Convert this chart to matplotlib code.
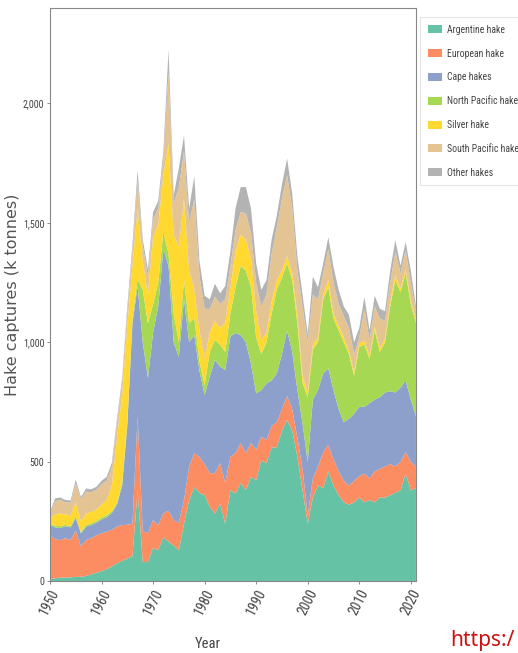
import matplotlib
matplotlib.use("Agg")
import matplotlib.pyplot as plt
from matplotlib import font_manager
from matplotlib.font_manager import FontProperties
from matplotlib.ticker import FuncFormatter

years = list(range(1950, 2022))

species = ["Argentine hake", "European hake", "Cape hakes", "North Pacific hake",
           "Silver hake", "South Pacific hake", "Other hakes"]

argentine = [8, 12, 15, 15, 16, 18, 18, 22, 28, 35, 42, 50, 62, 75, 85, 95, 105, 380, 80, 80,
             140, 130, 185, 165, 150, 130, 240, 340, 395, 370, 360, 311, 283, 325, 240, 381, 367, 411, 381, 437,
             423, 507, 494, 560, 560, 630, 675, 630, 520, 380, 240, 350, 400, 390, 460, 400, 360, 330, 320, 330,
             350, 330, 340, 330, 350, 350, 360, 370, 380, 450, 380, 390]
european = [187, 163, 157, 165, 156, 194, 127, 150, 152, 157, 158, 157, 153, 153, 150, 141, 135, 310, 130, 120,
            115, 105, 100, 130, 105, 115, 100, 140, 140, 150, 130, 141, 169, 169, 171, 140, 169, 167, 155, 141,
            127, 98, 97, 90, 105, 90, 100, 90, 80, 90, 35, 80, 80, 150, 110, 110, 100, 90, 80, 90,
            90, 120, 90, 130, 120, 130, 130, 110, 120, 90, 120, 90]
cape = [40, 50, 50, 50, 53, 53, 55, 56, 55, 53, 58, 61, 70, 92, 165, 414, 840, 545, 790, 650,
        785, 915, 1105, 1025, 745, 695, 840, 520, 495, 360, 290, 404, 474, 404, 473, 503, 503, 452, 464, 332,
        236, 195, 237, 190, 205, 230, 275, 240, 200, 190, 225, 330, 320, 330, 320, 290, 260, 245, 280, 280,
        290, 280, 315, 300, 300, 310, 305, 310, 310, 300, 260, 210]
north_pacific = [5, 7, 8, 6, 5, 7, 5, 7, 7, 7, 8, 8, 8, 8, 10, 15, 20, 30, 220, 230,
                 120, 100, 70, 50, 120, 60, 80, 80, 70, 40, 40, 104, 84, 92, 76, 96, 191, 290, 300, 320,
                 234, 150, 172, 280, 350, 320, 280, 300, 280, 170, 270, 210, 200, 310, 340, 300, 330, 335, 270, 160,
                 250, 260, 185, 290, 190, 210, 355, 470, 400, 450, 400, 390]
silver = [22, 48, 53, 44, 45, 58, 45, 48, 48, 48, 54, 64, 107, 272, 370, 405, 220, 295, 120, 120,
          280, 240, 240, 460, 330, 400, 340, 220, 120, 130, 110, 80, 80, 70, 120, 110, 150, 130, 130, 120,
          110, 60, 40, 50, 40, 30, 30, 30, 30, 30, 20, 20, 20, 20, 30, 20, 20, 20, 15, 15,
          15, 15, 15, 15, 15, 15, 20, 20, 15, 15, 15, 15]
south_pacific = [18, 55, 57, 50, 53, 80, 92, 92, 82, 82, 85, 80, 78, 65, 55, 60, 65, 120, 65, 75,
                 75, 70, 70, 300, 130, 250, 200, 200, 380, 230, 210, 100, 100, 100, 100, 90, 90, 95, 110, 110,
                 120, 140, 160, 200, 220, 300, 340, 270, 190, 290, 210, 210, 160, 90, 130, 130, 90, 90, 95, 75,
                 25, 135, 65, 85, 125, 75, 80, 100, 65, 80, 75, 35]
other = [8, 12, 10, 10, 10, 15, 10, 13, 13, 13, 15, 17, 17, 15, 15, 20, 25, 40, 25, 30,
         30, 32, 30, 95, 35, 80, 65, 60, 95, 60, 55, 40, 55, 45, 55, 60, 90, 105, 110, 100,
         80, 70, 60, 60, 50, 60, 70, 60, 60, 50, 35, 75, 50, 40, 50, 65, 60, 40, 55, 50,
         40, 50, 40, 45, 40, 40, 50, 48, 30, 35, 50, 20]

colors = ["#66c2a5", "#fc8d62", "#8da0cb", "#a6d854", "#ffd92f", "#e5c494", "#b3b3b3"]


def narrow_font():
    """Pick a condensed sans-serif font file if one is installed."""
    prefs = ["liberation sans narrow", "dejavu sans condensed", "roboto condensed",
             "open sans condensed", "noto sans condensed"]
    entries = font_manager.fontManager.ttflist
    for p in prefs:
        for f in entries:
            if f.name.lower() == p and f.weight in (400, "normal", "regular") and f.style == "normal":
                return f.fname
    for f in entries:
        nm = f.name.lower()
        st = str(f.stretch).lower()
        if ("condensed" in st or "narrow" in nm or "condensed" in nm) and "mono" not in nm \
                and "serif" not in nm and f.style == "normal" and f.weight in (400, "normal", "regular"):
            return f.fname
    return None


nf = narrow_font()


def fprop(size):
    if nf:
        return FontProperties(fname=nf, size=size)
    return FontProperties(family="DejaVu Sans", size=size * 0.8)


fig = plt.figure(figsize=(5.18, 6.53), dpi=100)
ax = fig.add_axes([0.0965, 0.110, 0.7065, 0.878])

ax.stackplot(years, argentine, european, cape, north_pacific, silver, south_pacific, other,
             labels=species, colors=colors, linewidth=0.4)

ax.set_xlim(1950, 2021)
ax.set_ylim(0, 2400)
ax.set_xticks(list(range(1950, 2021, 10)))
ax.set_yticks([0, 500, 1000, 1500, 2000])
ax.yaxis.set_major_formatter(FuncFormatter(lambda v, p: f"{int(v):,}"))

ax.tick_params(axis="both", colors="#777777", length=2.5, width=0.6, pad=1.5)
for lab in ax.get_yticklabels():
    lab.set_fontproperties(fprop(7.2))
    lab.set_color("#444444")
for lab in ax.get_xticklabels():
    lab.set_fontproperties(fprop(10))
    lab.set_color("#444444")
    lab.set_rotation(63)
    lab.set_ha("right")
    lab.set_rotation_mode("anchor")

for s in ax.spines.values():
    s.set_color("#888888")
    s.set_linewidth(0.8)

ax.set_ylabel("Hake captures (k tonnes)", fontsize=11.5, color="#555555")
ax.yaxis.set_label_coords(-0.082, 0.5)
ax.set_xlabel("Year", color="#444444", fontproperties=fprop(10.5))
ax.xaxis.set_label_coords(0.43, -0.097)

leg = ax.legend(loc="upper left", bbox_to_anchor=(1.011, 0.984), prop=fprop(7.0),
                frameon=True, handlelength=1.5, handleheight=0.9, labelspacing=1.42,
                borderpad=0.8, handletextpad=0.5, borderaxespad=0.0, fancybox=False)
leg.get_frame().set_edgecolor("#dddddd")
leg.get_frame().set_linewidth(0.8)
for t in leg.get_texts():
    t.set_color("#444444")

fig.text(450 / 518, 1 - 651 / 653, "https:/", color="#cc1111", fontsize=15, ha="left",
         va="bottom", family=["Noto Sans", "DejaVu Sans"])

fig.savefig("out.png", dpi=100)
